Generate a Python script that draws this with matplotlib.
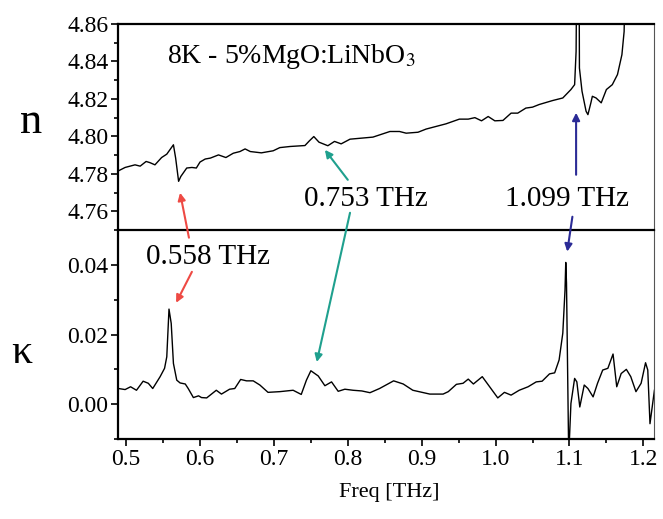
import matplotlib
matplotlib.use("Agg")
import matplotlib.pyplot as plt
from matplotlib.ticker import FixedLocator, FormatStrFormatter

plt.rcParams['font.family'] = ['Liberation Serif', 'DejaVu Serif']
plt.rcParams['mathtext.fontset'] = 'stix'

# ---- data: refractive index n (top panel) ----
n_freq = [0.4896, 0.4986, 0.512, 0.519, 0.527, 0.532, 0.539, 0.548, 0.555, 0.564,
          0.567, 0.571, 0.574, 0.582, 0.589, 0.595, 0.600, 0.607, 0.614, 0.625,
          0.635, 0.645, 0.654, 0.661, 0.668, 0.683, 0.699, 0.708, 0.722, 0.742,
          0.748, 0.754, 0.761, 0.773, 0.782, 0.791, 0.803, 0.834, 0.857, 0.870,
          0.879, 0.895, 0.906, 0.933, 0.951, 0.963, 0.972, 0.981, 0.990, 0.999,
          1.010, 1.021, 1.030, 1.041, 1.050, 1.059, 1.077, 1.091, 1.102, 1.107,
          1.109, 1.110, 1.113, 1.1135, 1.117, 1.1225, 1.125, 1.129, 1.131, 1.136,
          1.143, 1.150, 1.158, 1.165, 1.171, 1.174, 1.176]
n_vals = [4.7816, 4.7834, 4.7848, 4.7841, 4.7866, 4.7860, 4.7848, 4.7887, 4.7905, 4.7955,
          4.7884, 4.7760, 4.7786, 4.7831, 4.7834, 4.7831, 4.7863, 4.7879, 4.7884, 4.7901,
          4.7887, 4.7910, 4.7919, 4.7933, 4.7919, 4.7912, 4.7923, 4.7940, 4.7946, 4.7951,
          4.7976, 4.7999, 4.7969, 4.7950, 4.7973, 4.7960, 4.7985, 4.7996, 4.8026, 4.8026,
          4.8017, 4.8022, 4.8039, 4.8067, 4.8092, 4.8092, 4.8100, 4.8083, 4.8106, 4.8083,
          4.8085, 4.8124, 4.8124, 4.8151, 4.8156, 4.8170, 4.8191, 4.8205, 4.8250, 4.8276,
          4.8454, 4.9000, 4.9000, 4.8365, 4.8241, 4.8134, 4.8116, 4.8179, 4.8214, 4.8205,
          4.8179, 4.8250, 4.8276, 4.8330, 4.8436, 4.8560, 4.9000]

# ---- data: extinction coefficient kappa (bottom panel) ----
k_freq = [0.4896, 0.4986, 0.506, 0.514, 0.523, 0.530, 0.536, 0.546, 0.552, 0.555,
          0.558, 0.561, 0.564, 0.5685, 0.573, 0.580, 0.584, 0.591, 0.598, 0.602,
          0.609, 0.622, 0.629, 0.640, 0.647, 0.655, 0.663, 0.672, 0.681, 0.692,
          0.708, 0.726, 0.737, 0.744, 0.750, 0.760, 0.769, 0.778, 0.787, 0.796,
          0.807, 0.819, 0.830, 0.843, 0.862, 0.875, 0.888, 0.911, 0.929, 0.936,
          0.947, 0.956, 0.963, 0.970, 0.982, 0.992, 1.003, 1.012, 1.021, 1.032,
          1.044, 1.055, 1.063, 1.073, 1.080, 1.086, 1.091, 1.094, 1.095, 1.096,
          1.099, 1.102, 1.107, 1.110, 1.114, 1.120, 1.125, 1.132, 1.138, 1.145,
          1.152, 1.159, 1.164, 1.170, 1.177, 1.183, 1.190, 1.197, 1.203, 1.206,
          1.209, 1.212, 1.215]
k_vals = [0.0045, 0.0042, 0.0050, 0.0040, 0.0066, 0.0060, 0.0045, 0.0079, 0.0103, 0.0136,
          0.0273, 0.0232, 0.0117, 0.0069, 0.0061, 0.0058, 0.0045, 0.0019, 0.0024, 0.0019,
          0.0018, 0.0040, 0.0029, 0.0043, 0.0045, 0.0071, 0.0067, 0.0067, 0.0055, 0.0034,
          0.0036, 0.0040, 0.0028, 0.0069, 0.0096, 0.0081, 0.0053, 0.0064, 0.0037, 0.0043,
          0.0040, 0.0038, 0.0033, 0.0045, 0.0067, 0.0058, 0.0040, 0.0029, 0.0029, 0.0036,
          0.0057, 0.0060, 0.0072, 0.0058, 0.0079, 0.0050, 0.0018, 0.0034, 0.0026, 0.0040,
          0.0050, 0.0064, 0.0066, 0.0087, 0.0090, 0.0127, 0.0204, 0.0328, 0.0407, 0.0348,
          -0.0150, 0.0002, 0.0074, 0.0064, -0.0008, 0.0055, 0.0045, 0.0021, 0.0060, 0.0098,
          0.0103, 0.0144, 0.0050, 0.0088, 0.0100, 0.0079, 0.0036, 0.0060, 0.0119, 0.0098,
          -0.0056, -0.0008, 0.0040]

x_ticks = [0.5, 0.6, 0.7, 0.8, 0.9, 1.0, 1.1, 1.2]
n_ticks = [4.76, 4.78, 4.80, 4.82, 4.84, 4.86]
k_ticks = [0.00, 0.02, 0.04]

fig = plt.figure(figsize=(6.63, 5.19), dpi=100)
ax1 = fig.add_axes([0.178, 0.5568, 0.8085, 0.397])
ax2 = fig.add_axes([0.178, 0.1541, 0.8085, 0.4027], sharex=ax1)

ax1.plot(n_freq, n_vals, color='black', lw=1.0)
ax2.plot(k_freq, k_vals, color='black', lw=1.0)

ax1.set_xlim(0.489, 1.2145)
ax1.set_ylim(4.75, 4.86)
ax2.set_ylim(-0.01, 0.05)

for ax in (ax1, ax2):
    for s in ('left', 'top', 'bottom'):
        ax.spines[s].set_linewidth(1.6)
    ax.spines['right'].set_linewidth(0.8)
    ax.spines['right'].set_color('#555555')
    ax.tick_params(which='both', direction='out', width=1.2, labelsize=17, pad=2)
    ax.tick_params(which='major', length=5)
    ax.tick_params(which='minor', length=3)

ax1.spines['bottom'].set_visible(False)
ax1.yaxis.set_major_locator(FixedLocator(n_ticks))
ax1.yaxis.set_minor_locator(FixedLocator([4.75, 4.77, 4.79, 4.81, 4.83, 4.85]))
ax1.yaxis.set_major_formatter(FormatStrFormatter('%.2f'))
ax1.tick_params(axis='x', which='both', bottom=False, labelbottom=False)

ax2.yaxis.set_major_locator(FixedLocator(k_ticks))
ax2.yaxis.set_minor_locator(FixedLocator([-0.01, 0.01, 0.03]))
ax2.yaxis.set_major_formatter(FormatStrFormatter('%.2f'))
ax2.xaxis.set_major_locator(FixedLocator(x_ticks))
ax2.xaxis.set_minor_locator(FixedLocator([0.55, 0.65, 0.75, 0.85, 0.95, 1.05, 1.15]))
ax2.xaxis.set_major_formatter(FormatStrFormatter('%.1f'))

# labels
fig.text(31 / 663, 1 - 122 / 519, 'n', fontsize=32, ha='center', va='center')
fig.text(22 / 663, 1 - 353 / 519, '\u03ba', fontsize=30, ha='center', va='center')
fig.text(389 / 663, 1 - 493 / 519, 'Freq [THz]', fontsize=16, ha='center', va='center')
fig.text(167 / 663, 1 - 63 / 519, r'8K - 5%MgO:LiNbO$_3$', fontsize=20, ha='left', va='baseline')

ax2.text(0.611, 0.0423, '0.558 THz', fontsize=21, ha='center', va='center')
ax1.text(0.824, 4.7667, '0.753 THz', fontsize=21, ha='center', va='center')
ax1.text(1.097, 4.7667, '1.099 THz', fontsize=21, ha='center', va='center')

red = '#ee4a44'
teal = '#1fa08e'
blue = '#2b2b96'

def arrow(head_ax, head, tail_ax, tail, color):
    ax2.annotate('', xy=head, xycoords=head_ax.transData,
                 xytext=tail, textcoords=tail_ax.transData,
                 arrowprops=dict(arrowstyle='-|>', color=color, lw=1.5,
                                 mutation_scale=11, shrinkA=0, shrinkB=0),
                 annotation_clip=False)

arrow(ax1, (0.573, 4.7699), ax2, (0.585, 0.0478), red)
arrow(ax2, (0.5676, 0.0291), ax2, (0.589, 0.0380), red)
arrow(ax1, (0.769, 4.7928), ax1, (0.800, 4.7768), teal)
arrow(ax2, (0.758, 0.0121), ax1, (0.803, 4.7592), teal)
arrow(ax1, (1.109, 4.8126), ax1, (1.109, 4.7795), blue)
arrow(ax2, (1.097, 0.0438), ax1, (1.104, 4.7571), blue)

fig.savefig('out.png', dpi=100)
